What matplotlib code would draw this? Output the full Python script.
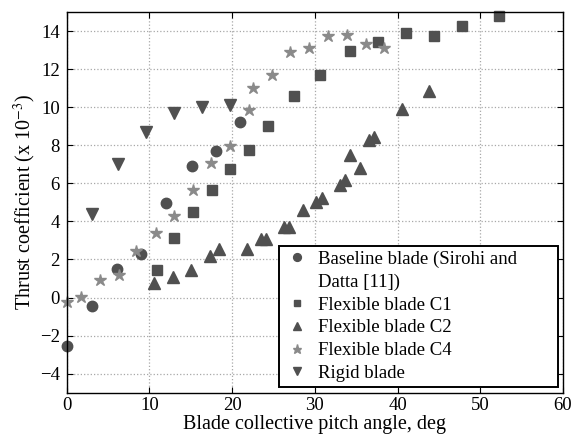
import matplotlib
matplotlib.use('Agg')
import matplotlib.pyplot as plt
from matplotlib.lines import Line2D

plt.rcParams['font.family'] = ['Liberation Serif', 'DejaVu Serif']
plt.rcParams['mathtext.fontset'] = 'stix'

# Baseline blade (Sirohi and Datta [11])
base_x = [0.05, 3.0, 6.05, 8.95, 12.0, 15.1, 18.05, 21.0]
base_y = [-2.53, -0.42, 1.5, 2.3, 4.98, 6.9, 7.68, 9.2]

# Flexible blade C1
c1_x = [10.9, 13.0, 15.3, 17.6, 19.8, 22.1, 24.3, 27.5, 30.6, 34.3, 37.6, 41.0, 44.4, 47.8, 52.3]
c1_y = [1.46, 3.14, 4.49, 5.67, 6.74, 7.75, 9.0, 10.6, 11.7, 12.95, 13.4, 13.9, 13.75, 14.26, 14.8]

# Flexible blade C2
c2_x = [10.6, 12.8, 15.0, 17.3, 18.45, 21.8, 23.45, 24.05, 26.3, 26.9, 28.6, 30.2, 30.9,
        33.1, 33.7, 34.3, 35.4, 36.6, 37.1, 40.5, 43.8]
c2_y = [0.75, 1.1, 1.46, 2.16, 2.53, 2.53, 3.09, 3.09, 3.7, 3.7, 4.58, 5.0, 5.23,
        5.9, 6.2, 7.47, 6.8, 8.26, 8.44, 9.93, 10.86]

# Flexible blade C4
c4_x = [0.0, 1.7, 4.0, 6.3, 8.4, 10.8, 13.0, 15.3, 17.5, 19.8, 22.0, 22.5, 24.8, 27.0,
        29.3, 31.6, 33.9, 36.2, 38.4]
c4_y = [-0.25, 0.05, 0.9, 1.2, 2.44, 3.4, 4.26, 5.67, 7.09, 7.96, 9.84, 11.0, 11.7, 12.9,
        13.1, 13.75, 13.8, 13.3, 13.1]

# Rigid blade
rigid_x = [3.0, 6.2, 9.6, 13.0, 16.4, 19.7]
rigid_y = [4.4, 7.0, 8.7, 9.7, 10.0, 10.1]

dark = '#505050'
light = '#8a8a8a'

fig = plt.figure(figsize=(5.74, 4.41), dpi=100)
ax = fig.add_axes([0.1162, 0.1095, 0.8646, 0.8633])

h_base, = ax.plot(base_x, base_y, 'o', color=dark, ms=7.5, ls='none', clip_on=False)
h_c1, = ax.plot(c1_x, c1_y, 's', color=dark, ms=6.5, ls='none', clip_on=False)
h_c2, = ax.plot(c2_x, c2_y, '^', color=dark, ms=8.5, ls='none', clip_on=False)
h_c4, = ax.plot(c4_x, c4_y, '*', color=light, ms=9, ls='none', clip_on=False)
h_rig, = ax.plot(rigid_x, rigid_y, 'v', color=dark, ms=8.5, ls='none', clip_on=False)

ax.set_xlim(0, 60)
ax.set_ylim(-5, 15)
ax.set_xticks(range(0, 61, 10))
ax.set_yticks(range(-4, 15, 2))
ax.set_yticklabels([str(v).replace('-', '\u2212') for v in range(-4, 15, 2)])
ax.tick_params(direction='in', labelsize=13.5, length=4, top=True, right=True)
ax.tick_params(axis='y', pad=5)
ax.tick_params(axis='x', pad=3)
ax.grid(True, linestyle=':', color='#a8a8a8', linewidth=0.9)
for s in ax.spines.values():
    s.set_linewidth(1.0)

ax.set_xlabel('Blade collective pitch angle, deg', fontsize=14.5, labelpad=1)
ax.set_ylabel('Thrust coefficient (x 10$^{-3}$)', fontsize=14.5, labelpad=1)

# second line of the baseline label gets an empty handle so the circle sits on line one
blank = Line2D([], [], ls='none', marker='None')
handles = [h_base, blank, h_c1, h_c2, h_c4, h_rig]
labels = ['Baseline blade (Sirohi and', 'Datta [11])', 'Flexible blade C1',
          'Flexible blade C2', 'Flexible blade C4', 'Rigid blade']

leg = ax.legend(handles, labels, loc='lower left', mode='expand',
                bbox_to_anchor=(0.428, 0.016, 0.562, 0.36),
                fontsize=13.5, frameon=True, fancybox=False, edgecolor='black', framealpha=1,
                borderpad=0.25, handletextpad=0.4, labelspacing=0.3, handlelength=1.4,
                markerscale=0.75, borderaxespad=0)
leg.get_frame().set_linewidth(1.4)

fig.savefig('out.png', dpi=100)
